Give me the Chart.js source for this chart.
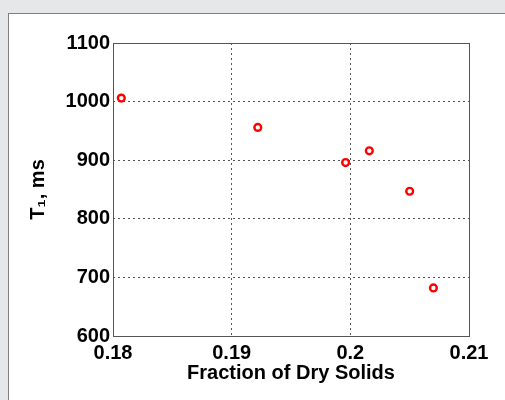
<!DOCTYPE html>
<html>
<head>
<meta charset="utf-8">
<script src="https://cdn.jsdelivr.net/npm/chart.js@4/dist/chart.umd.min.js"></script>
<style>
  html, body { margin: 0; padding: 0; width: 505px; height: 400px; overflow: hidden; background: #e6e7e8; }
  #panel { position: absolute; left: 8px; top: 13px; width: 510px; height: 400px; background: #ffffff; border-left: 1px solid #808080; border-top: 1px solid #808080; }
  #c { position: absolute; left: 0; top: 0; }
</style>
</head>
<body>
<div id="panel"></div>
<canvas id="c" width="505" height="400"></canvas>
<script>
// Data
const fractionDrySolids = [0.1807, 0.1922, 0.1996, 0.2016, 0.2050, 0.2070];
const t1Values = [1006, 956, 896, 916, 847, 682];
const xTickValues = [0.18, 0.19, 0.20, 0.21];
const xTickLabels = ["0.18", "0.19", "0.2", "0.21"];
const yTickValues = [600, 700, 800, 900, 1000, 1100];
const yTickLabels = ["600", "700", "800", "900", "1000", "1100"];
const xTitle = "Fraction of Dry Solids";
const yTitle = "T\u2081, ms";

const fontFamily = "'Liberation Sans', Arial, Helvetica, sans-serif";

const boxPlugin = {
  id: 'box',
  afterDraw(chart) {
    const a = chart.chartArea, ctx = chart.ctx;
    ctx.save();
    ctx.strokeStyle = '#555555';
    ctx.lineWidth = 1;
    ctx.setLineDash([]);
    ctx.strokeRect(Math.round(a.left) + 0.5, Math.round(a.top) + 0.5, Math.round(a.right - a.left), Math.round(a.bottom - a.top));
    ctx.restore();
  }
};

new Chart(document.getElementById('c'), {
  type: 'scatter',
  data: {
    datasets: [{
      data: fractionDrySolids.map((x, i) => ({ x: x, y: t1Values[i] })),
      pointRadius: 3.4,
      pointHoverRadius: 3.4,
      pointBorderWidth: 2.4,
      pointBorderColor: '#ff0000',
      pointBackgroundColor: '#ffffff',
      showLine: false
    }]
  },
  options: {
    responsive: false,
    animation: false,
    devicePixelRatio: 1,
    layout: { padding: { left: 0, right: 36, top: 43, bottom: 0 } },
    plugins: { legend: { display: false }, tooltip: { enabled: false } },
    scales: {
      x: {
        type: 'linear',
        min: 0.18,
        max: 0.21,
        afterBuildTicks: s => { s.ticks = xTickValues.map(v => ({ value: v })); },
        afterFit: s => { s.height = 64; },
        ticks: {
          callback: (v, i) => xTickLabels[i],
          color: '#000000',
          font: { family: fontFamily, size: 20, weight: 'bold' },
          padding: 5,
          maxRotation: 0,
          autoSkip: false
        },
        grid: { color: '#555555', lineWidth: 1, drawTicks: false, tickLength: 0 },
        border: { display: false, dash: [2, 3] },
        title: {
          display: true,
          text: xTitle,
          color: '#000000',
          font: { family: fontFamily, size: 20, weight: 'bold' },
          padding: { top: 15, bottom: 15 }
        }
      },
      y: {
        type: 'linear',
        min: 600,
        max: 1100,
        afterBuildTicks: s => { s.ticks = yTickValues.map(v => ({ value: v })); },
        afterFit: s => { s.width = 113; },
        ticks: {
          callback: (v, i) => yTickLabels[i],
          color: '#000000',
          font: { family: fontFamily, size: 20, weight: 'bold' },
          padding: 3,
          autoSkip: false
        },
        grid: { color: '#555555', lineWidth: 1, drawTicks: false, tickLength: 0 },
        border: { display: false, dash: [2, 3] },
        title: {
          display: true,
          text: yTitle,
          color: '#000000',
          font: { family: fontFamily, size: 20, weight: 'bold' },
          padding: { top: 26, bottom: 0 }
        }
      }
    }
  },
  plugins: [boxPlugin]
});
</script>
</body>
</html>
